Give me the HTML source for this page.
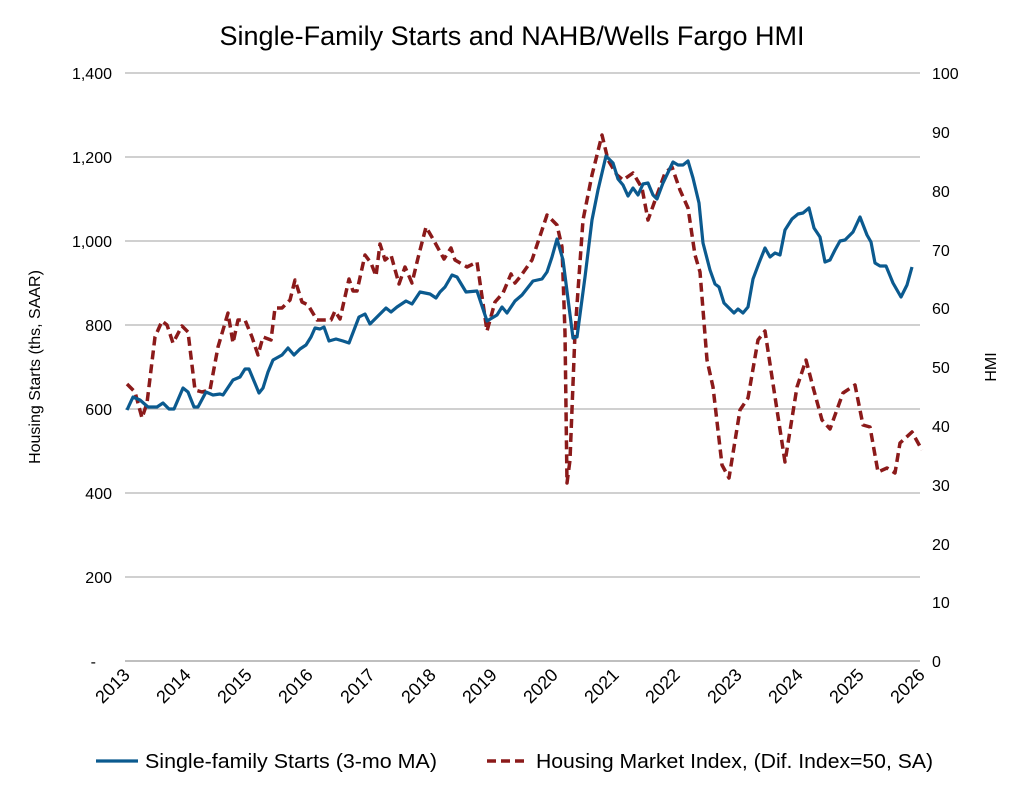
<!DOCTYPE html>
<html><head><meta charset="utf-8"><style>
body{margin:0;background:#fff;}
svg{display:block;font-family:"Liberation Sans",sans-serif;}
</style></head><body>
<svg width="1024" height="790" viewBox="0 0 1024 790">
<rect width="1024" height="790" fill="#fff"/>
<text x="512" y="45" font-size="27" text-anchor="middle" fill="#000" textLength="585" lengthAdjust="spacingAndGlyphs">Single-Family Starts and NAHB/Wells Fargo HMI</text>
<g stroke="#b3b3b3" stroke-width="1.3">
<line x1="125" y1="73" x2="920" y2="73"/><line x1="125" y1="157" x2="920" y2="157"/>
<line x1="125" y1="241" x2="920" y2="241"/><line x1="125" y1="325" x2="920" y2="325"/>
<line x1="125" y1="409" x2="920" y2="409"/><line x1="125" y1="493" x2="920" y2="493"/>
<line x1="125" y1="577" x2="920" y2="577"/><line x1="125" y1="661" x2="920" y2="661" stroke="#999"/>
</g>
<g font-size="16" fill="#000" text-anchor="end">
<text x="112" y="79">1,400</text><text x="112" y="163">1,200</text><text x="112" y="247">1,000</text>
<text x="112" y="331">800</text><text x="112" y="415">600</text><text x="112" y="499">400</text>
<text x="112" y="583">200</text><text x="96" y="667">-</text>
</g>
<g font-size="16" fill="#000" text-anchor="start">
<text x="932" y="79">100</text><text x="932" y="138">90</text><text x="932" y="197">80</text>
<text x="932" y="256">70</text><text x="932" y="314">60</text><text x="932" y="373">50</text>
<text x="932" y="432">40</text><text x="932" y="491">30</text><text x="932" y="550">20</text>
<text x="932" y="608">10</text><text x="932" y="667">0</text>
</g>
<text transform="translate(40,367) rotate(-90)" font-size="16" text-anchor="middle">Housing Starts (ths, SAAR)</text>
<text transform="translate(996,367) rotate(-90)" font-size="16" text-anchor="middle">HMI</text>
<g font-size="18" fill="#000" text-anchor="end">
<text transform="translate(131,676) rotate(-45)">2013</text>
<text transform="translate(192,676) rotate(-45)">2014</text>
<text transform="translate(253,676) rotate(-45)">2015</text>
<text transform="translate(314,676) rotate(-45)">2016</text>
<text transform="translate(376,676) rotate(-45)">2017</text>
<text transform="translate(437,676) rotate(-45)">2018</text>
<text transform="translate(498,676) rotate(-45)">2019</text>
<text transform="translate(559,676) rotate(-45)">2020</text>
<text transform="translate(620,676) rotate(-45)">2021</text>
<text transform="translate(681,676) rotate(-45)">2022</text>
<text transform="translate(743,676) rotate(-45)">2023</text>
<text transform="translate(804,676) rotate(-45)">2024</text>
<text transform="translate(865,676) rotate(-45)">2025</text>
<text transform="translate(926,676) rotate(-45)">2026</text>
</g>
<polyline fill="none" stroke="#8b1a1a" stroke-width="3.5" stroke-dasharray="9,5" stroke-linejoin="round" points="127,384 135,392 142,418 147,403 155,337 162,321 167,325 173,343 182,326 188,332 195,390 202,392 210,390 218,347 228,313 233,343 238,320 245,320 252,337 258,355 263,337 271,340 275,308 282,308 290,300 295,280 302,302 308,305 317,320 325,320 331,320 335,311 340,319 349,279 353,291 357,291 365,255 371,263 376,276 380,244 385,260 391,255 399,284 405,267 412,283 418,258 426,227 433,239 444,259 451,248 455,260 467,267 477,262 487,331 495,302 503,293 511,274 515,283 520,277 532,260 547,215 557,225 562,247 565,333 567,483 570,460 575,333 583,220 592,175 602,135 608,160 617,175 623,180 633,173 642,188 648,220 657,195 665,173 672,167 680,190 688,208 695,255 700,272 707,360 713,387 722,465 729,478 740,410 748,398 758,340 765,331 777,410 785,462 797,387 806,360 813,387 822,420 830,429 843,393 855,385 863,425 870,427 878,472 887,468 895,473 900,443 912,432 922,450"/>
<polyline fill="none" stroke="#0b5a8f" stroke-width="3.2" stroke-linejoin="round" points="127,410 133,397 140,400 148,407 157,407 163,403 169,409 174,409 183,388 188,392 194,407 198,407 206,392 213,395 220,394 223,395 233,380 240,377 245,369 249,369 259,393 263,388 268,372 273,360 282,355 288,348 294,355 300,349 306,345 311,337 315,328 320,329 324,327 329,341 336,339 343,341 349,343 354,330 359,317 365,314 370,324 377,317 386,308 391,312 397,307 400,305 406,301 412,304 420,292 430,294 436,298 440,292 445,287 452,275 457,277 466,292 477,291 487,321 497,315 502,307 507,313 515,301 522,295 533,281 542,279 547,272 552,257 557,239 563,260 573,338 577,337 585,277 592,220 598,190 606,156 613,163 618,179 623,185 628,196 633,188 638,195 643,184 648,183 653,195 657,199 663,183 673,162 678,165 683,165 688,161 693,178 699,203 703,243 710,270 715,284 719,287 724,303 728,307 734,313 738,309 743,313 748,307 753,279 759,263 765,248 770,257 775,253 780,255 785,230 792,219 798,214 803,213 809,208 814,228 820,237 825,262 830,260 835,250 840,241 845,240 853,232 860,217 867,235 871,242 875,263 880,266 886,266 893,283 901,297 907,285 912,267"/>
<line x1="96" y1="761" x2="138" y2="761" stroke="#0b5a8f" stroke-width="3.2"/>
<text x="145" y="768" font-size="20" textLength="292" lengthAdjust="spacingAndGlyphs">Single-family Starts (3-mo MA)</text>
<line x1="487" y1="761" x2="529" y2="761" stroke="#8b1a1a" stroke-width="3.5" stroke-dasharray="9,5"/>
<text x="536" y="768" font-size="20" textLength="397" lengthAdjust="spacingAndGlyphs">Housing Market Index, (Dif. Index=50, SA)</text>
</svg>
</body></html>
